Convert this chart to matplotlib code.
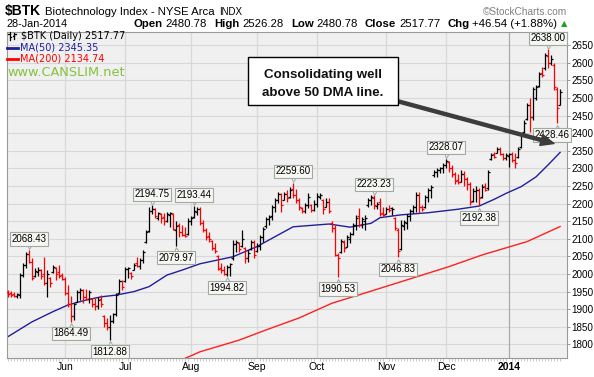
import matplotlib
matplotlib.use('Agg')
import matplotlib.pyplot as plt
import matplotlib.transforms as mtrans
from matplotlib.patches import Rectangle, FancyArrowPatch
from matplotlib.lines import Line2D
import numpy as np

plt.rcParams['font.family'] = ['Liberation Sans', 'DejaVu Sans']

# ---------------- data (trading-day index 0 = 6 May 2013) ----------------
opens = [1950,1945,1942,1937,1940,1998,2025,2058,2035,1995,
         2005,2010,2000,1975,1988,2005,2018,2005,1998,1985,
         1945,1915,1880,1920,1950,1955,1935,1930,1930,1915,
         1910,1930,1880,1860,1850,1865,1885,1945,1980,1980,
         2015,2003,2012,2030,2022,2040,2090,2122,2180,2185,
         2160,2170,2162,2150,2168,2170,2125,2138,2120,2112,
         2115,2150,2162,2175,2185,2145,2125,2108,2095,2075,
         2050,2018,2010,2000,2020,2045,2085,2088,2080,2075,
         2045,2070,2090,2065,2080,2105,2135,2155,2165,2190,
         2210,2228,2210,2228,2218,2242,2225,2210,2188,2178,
         2195,2195,2182,2200,2220,2210,2190,2205,2145,2130,
         2055,2062,2092,2078,2100,2115,2140,2165,2140,2150,
         2195,2210,2215,2192,2205,2172,2170,2185,2188,2160,
         2125,2070,2135,2145,2165,2180,2190,2225,2190,2190,
         2218,2238,2280,2290,2295,2300,2310,2318,2300,2285,
         2268,2262,2285,2270,2255,2208,2235,2240,2218,2250,
         2245,2328,2340,2345,2355,2340,2330,2335,2340,2325,
         2332,2360,2402,2440,2480,2445,2500,2535,2570,2585,
         2620,2600,2595,2525,2480.78]
highs = [1955,1952,1950,1945,2003,2031,2062,2068.43,2045,2017,
         2020,2015,2048,2011,1991,2025,2020,2025,2003,1991,
         1969,1938,1918,1955,1960,1958,1958,1955,1932,1932,
         1935,1940,1883,1875,1883,1890,1945,1985,1983,2020,
         2020,2005,2030,2048,2045,2068,2125,2190,2194.75,2187,
         2176,2173,2173,2176,2176,2173,2150,2145,2140,2133,
         2159,2165,2193.44,2190,2190,2153,2131,2119,2097,2088,
         2054,2031,2023,2025,2031,2097,2097,2091,2125,2077,
         2068,2097,2097,2088,2111,2133,2162,2168,2196,2216,
         2233,2230,2233,2238,2247,2259.60,2242,2216,2190,2202,
         2230,2199,2210,2230,2230,2213,2216,2216,2150,2139,
         2060,2100,2097,2111,2119,2145,2168,2187,2162,2168,
         2216,2224,2223.23,2205,2215,2190,2190,2196,2190,2162,
         2130,2153,2153,2170,2185,2196,2233,2233,2196,2224,
         2244,2253,2295,2301,2304,2315,2328.07,2320,2310,2290,
         2285,2295,2292,2275,2260,2245,2250,2245,2255,2259,
         2295,2344,2347,2361,2361,2344,2344,2345,2347,2344,
         2361,2400,2437,2486,2500,2531,2537,2574,2588,2628,
         2638.00,2622,2600,2531,2526.28]
lows = [1935,1936,1935,1933,1932,1991,2017,2030,1983,1992,
        1995,1985,1969,1935,1963,2003,1983,1989,1983,1940,
        1906,1864.49,1870,1920,1925,1918,1925,1918,1906,1898,
        1900,1905,1850,1840,1812.88,1860,1880,1945,1955,1977,
        1990,1985,2010,2020,2015,2031,2088,2120,2170,2159,
        2153,2145,2139,2148,2133,2125,2079.97,2105,2108,2105,
        2110,2140,2160,2168,2139,2119,2097,2091,2068,2060,
        2011,2003,1997,1994.82,1995,2040,2062,2062,2077,2031,
        2034,2068,2045,2062,2068,2091,2131,2139,2153,2176,
        2202,2176,2210,2205,2216,2216,2202,2182,2173,2173,
        2187,2176,2180,2190,2213,2170,2190,2173,2120,2050,
        1990.53,2060,2062,2077,2088,2111,2125,2133,2131,2125,
        2190,2196,2185,2185,2165,2165,2170,2175,2168,2125,
        2046.83,2068,2125,2128,2150,2173,2176,2173,2180,2187,
        2205,2216,2276,2276,2287,2287,2300,2290,2276,2255,
        2256,2262,2250,2240,2196,2205,2205,2192.38,2215,2236,
        2240,2324,2330,2344,2338,2324,2324,2304,2318,2301,
        2330,2358,2400,2437,2403,2437,2494,2531,2560,2580,
        2585,2594,2523,2428.46,2480.78]
closes = [1942,1940,1938,1942,1998,2025,2058,2035,1990,2008,
          2010,1995,1975,2000,1975,2020,2000,1995,1985,1945,
          1915,1880,1915,1950,1955,1935,1930,1950,1915,1910,
          1925,1915,1860,1850,1865,1885,1940,1980,1962,2015,
          2018,1995,2025,2022,2040,2062,2120,2178,2185,2165,
          2172,2160,2150,2170,2172,2128,2135,2118,2112,2108,
          2150,2160,2178,2185,2145,2125,2105,2100,2075,2065,
          2015,2010,2000,2020,2028,2085,2090,2070,2100,2045,
          2060,2090,2055,2080,2105,2128,2155,2162,2190,2210,
          2228,2195,2228,2215,2240,2225,2210,2190,2180,2195,
          2220,2182,2198,2222,2225,2185,2205,2180,2130,2055,
          2045,2095,2075,2105,2115,2140,2160,2140,2155,2160,
          2210,2218,2195,2200,2170,2168,2185,2182,2186,2130,
          2065,2140,2148,2165,2180,2190,2225,2190,2185,2218,
          2238,2248,2290,2296,2300,2310,2320,2300,2285,2265,
          2262,2285,2270,2255,2205,2235,2240,2215,2248,2240,
          2290,2338,2332,2355,2340,2330,2338,2340,2325,2315,
          2355,2395,2430,2480,2445,2525,2532,2568,2565,2622,
          2600,2612,2530,2471.23,2517.77]

month_idx = [19, 39, 61, 83, 103, 126, 146, 167]
month_lbl = ['Jun', 'Jul', 'Aug', 'Sep', 'Oct', 'Nov', 'Dec', '2014']

ma50_idx = [0, 8, 15, 20, 26, 31, 36, 42, 47, 53, 58, 64, 75, 83, 95, 107, 114,
            121, 124, 131, 140, 150, 157, 162, 166, 171, 176, 180, 184]
ma50_val = [1822, 1864, 1893, 1912, 1926, 1935, 1940, 1950, 1964, 1997, 2011, 2029,
            2049, 2078, 2134, 2142, 2133, 2144, 2160, 2168, 2174, 2184, 2193, 2212,
            2229, 2248, 2276, 2310, 2345.35]
ma200_idx = [55, 64, 77, 86, 97, 108, 119, 131, 147, 158, 173, 184]
ma200_val = [1745, 1779, 1812, 1841, 1875, 1917, 1946, 1978, 2021, 2054, 2092, 2134.74]

callout_idx = [7, 21, 34, 48, 56, 62, 73, 95, 110, 122, 130, 146, 157, 180, 183]
callout_val = [2068.43, 1864.49, 1812.88, 2194.75, 2079.97, 2193.44, 1994.82, 2259.60,
               1990.53, 2223.23, 2046.83, 2328.07, 2192.38, 2638.00, 2428.46]
callout_side = ['hi', 'lo', 'lo', 'hi', 'lo', 'hi', 'lo', 'hi', 'lo', 'hi', 'lo',
                'hi', 'lo', 'hi', 'lo']

y_ticks = list(range(1800, 2651, 50))

# ---------------- figure ----------------
W, H = 594, 377
fig = plt.figure(figsize=(W / 100, H / 100), dpi=100)
fig.patch.set_facecolor('white')


def fx(x):
    return x / W


def fy(y):
    return 1 - y / H


ax = fig.add_axes([fx(7), fy(358), 560 / W, (358 - 31.5) / H])
ax.set_facecolor('#f0f0f0')
ax.set_xlim(-0.33, 186.3)
ax.set_ylim(1761.3, 2688.9)

for v in y_ticks:
    ax.axhline(v, color='#d8d8d8', lw=0.8, zorder=0.5)
for m, lab in zip(month_idx, month_lbl):
    ax.axvline(m, color='#a9a9a9' if lab == '2014' else '#d8d8d8', lw=0.9, zorder=0.6)

for s in ax.spines.values():
    s.set_color('#9a9a9a')
    s.set_linewidth(0.8)

# OHLC bars
n = len(closes)
idx = np.arange(n)
prev = [opens[0]] + closes[:-1]
cols = ['#000000' if c >= p else '#ff0000' for c, p in zip(closes, prev)]
ax.vlines(idx, lows, highs, colors=cols, lw=0.9, zorder=3)
ax.hlines(opens, idx - 0.75, idx, colors=cols, lw=0.9, zorder=3)
ax.hlines(closes, idx, idx + 0.75, colors=cols, lw=0.9, zorder=3)

# moving averages
ax.plot(ma50_idx, ma50_val, color='#1f1f9e', lw=1.0, zorder=2)
ax.plot(ma200_idx, ma200_val, color='#ff2020', lw=1.0, zorder=2)

# axes ticks
ax.yaxis.tick_right()
ax.set_yticks(y_ticks)
ax.set_yticklabels([str(v) for v in y_ticks])
ax.tick_params(axis='y', which='major', length=2.2, width=0.6, color='#8a8a8a',
               labelsize=7.1, pad=1)
ax.set_xticks(month_idx)
ax.set_xticklabels(month_lbl)
ax.tick_params(axis='x', which='major', length=0, labelsize=7.5, pad=3)
ax.get_xticklabels()[-1].set_fontweight('bold')
ax.set_xticks(idx, minor=True)
ax.tick_params(axis='x', which='minor', length=1.8, width=0.5, color='#b0b0b0')

# callout labels
for i, v, side in zip(callout_idx, callout_val, callout_side):
    off = 8.0 if side == 'hi' else -8.5
    dx = -3.5 if i >= 182 else 0
    ax.annotate(f'{v:.2f}', xy=(i, v), xytext=(dx, off), textcoords='offset points',
                ha='center', va='center', fontsize=7, zorder=6,
                bbox=dict(boxstyle='square,pad=0.18', fc='#f6f7f3', ec='#9fa9a4', lw=0.8))
    tr = mtrans.offset_copy(ax.transData, fig=fig, x=0,
                            y=(2.6 if side == 'hi' else -2.6), units='points')
    ax.plot([i], [v], transform=tr, marker='v' if side == 'hi' else '^', ms=3.6,
            mfc='#f6f7f3', mec='#9fa9a4', mew=0.7, zorder=5, clip_on=False)

# legend inside plot
fig.add_artist(Line2D([fx(9.5), fx(9.5)], [fy(32), fy(40)], transform=fig.transFigure, color='black', lw=0.9))
fig.add_artist(Line2D([fx(8), fx(9.5)], [fy(34), fy(34)], transform=fig.transFigure, color='black', lw=0.9))
fig.add_artist(Line2D([fx(9.5), fx(11)], [fy(37), fy(37)], transform=fig.transFigure, color='black', lw=0.9))
fig.add_artist(Line2D([fx(14), fx(14)], [fy(33), fy(39)], transform=fig.transFigure, color='black', lw=0.9))
fig.add_artist(Line2D([fx(12.5), fx(14)], [fy(36), fy(36)], transform=fig.transFigure, color='black', lw=0.9))
fig.add_artist(Line2D([fx(14), fx(15.5)], [fy(34), fy(34)], transform=fig.transFigure, color='black', lw=0.9))
fig.text(fx(21), fy(36), '$BTK (Daily) 2517.77', family='DejaVu Sans', fontsize=7,
         va='center', ha='left', color='black')
fig.add_artist(Line2D([fx(7), fx(18)], [fy(47.5), fy(47.5)], transform=fig.transFigure,
                      color='#1f1f9e', lw=2))
fig.text(fx(20), fy(47.5), 'MA(50) 2345.35', family='DejaVu Sans', fontsize=7,
         va='center', ha='left', color='#1f1f9e')
fig.add_artist(Line2D([fx(7), fx(18)], [fy(58.5), fy(58.5)], transform=fig.transFigure,
                      color='#ff0000', lw=2))
fig.text(fx(20), fy(58.5), 'MA(200) 2134.74', family='DejaVu Sans', fontsize=7,
         va='center', ha='left', color='#ff0000')
fig.text(fx(7), fy(72.5), 'www.CANSLIM.net', family='DejaVu Sans', fontsize=9.3,
         va='center', ha='left', color='#84c23e')

# annotation box and arrow
arrow = FancyArrowPatch((fx(323), fy(81)), (fx(554), fy(143.5)), transform=fig.transFigure,
                        arrowstyle='simple,head_length=0.95,head_width=0.8,tail_width=0.22',
                        mutation_scale=10, color='#3c3c3c', shrinkA=0, shrinkB=0, zorder=7)
fig.add_artist(arrow)
fig.add_artist(Rectangle((fx(248), fy(105)), 150 / W, 48 / H, transform=fig.transFigure,
                         fc='white', ec='black', lw=1.0, zorder=8))
fig.text(fx(323), fy(75), 'Consolidating well', ha='center', va='center', fontsize=9.6,
         fontweight='bold', zorder=9, color='#111111')
fig.text(fx(323), fy(93), 'above 50 DMA line.', ha='center', va='center', fontsize=9.6,
         fontweight='bold', zorder=9, color='#111111')

# header
r = fig.canvas.get_renderer()


def width_of(s, **kw):
    t = fig.text(0, 0, s, **kw)
    w = t.get_window_extent(renderer=r).width
    t.remove()
    return w


x = 5
fig.text(fx(x), fy(15), '$BTK', fontsize=10, fontweight='bold', va='baseline', ha='left')
x += width_of('$BTK', fontsize=10, fontweight='bold') + 4
fig.text(fx(x), fy(15), 'Biotechnology Index - NYSE Arca', fontsize=8.2, va='baseline', ha='left')
x += width_of('Biotechnology Index - NYSE Arca', fontsize=8.2) + 4
fig.text(fx(x), fy(15), 'INDX', fontsize=7, va='baseline', ha='left')

fig.text(fx(567), fy(15), '\u00a9StockCharts.com', fontsize=7.3, color='#808080',
         va='baseline', ha='right')

fig.text(fx(6), fy(27), '28-Jan-2014', fontsize=7.8, va='baseline', ha='left')

parts = [('Open', 'bold', 3), ('2480.78', 'normal', 7), ('High', 'bold', 3),
         ('2526.28', 'normal', 7), ('Low', 'bold', 3), ('2480.78', 'normal', 7),
         ('Close', 'bold', 3), ('2517.77', 'normal', 7), ('Chg', 'bold', 3),
         ('+46.54 (+1.88%)', 'normal', 3)]
fs2 = 8.2
total = sum(width_of(s, fontsize=fs2, fontweight=wt) + g for s, wt, g in parts)
tri_w = width_of('\u25b2', fontsize=6, family=['DejaVu Sans'])
x = 567 - total - tri_w
for s, wt, g in parts:
    fig.text(fx(x), fy(27), s, fontsize=fs2, fontweight=wt, va='baseline', ha='left')
    x += width_of(s, fontsize=fs2, fontweight=wt) + g
fig.text(fx(x), fy(26), '\u25b2', fontsize=6, color='#1fa01f', va='baseline', ha='left',
         family=['DejaVu Sans'])

fig.savefig('out.png', dpi=100, facecolor='white')
